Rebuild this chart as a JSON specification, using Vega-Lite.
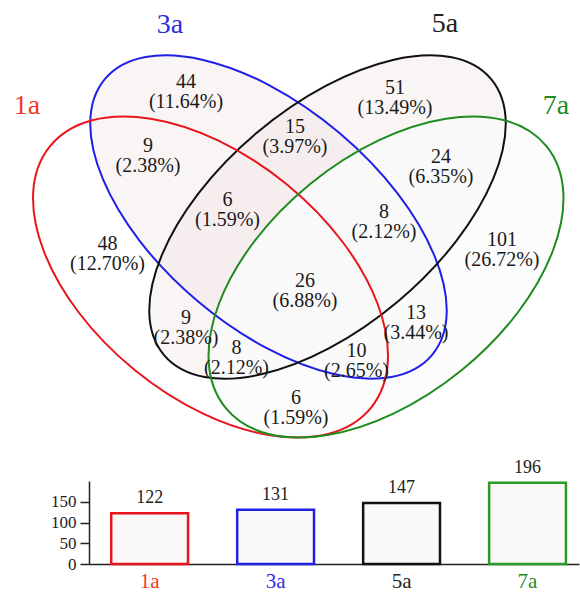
{
  "$schema": "https://vega.github.io/schema/vega-lite/v6.json",
  "padding": 0,
  "background": "white",
  "config": {
    "view": {"stroke": null},
    "font": "Liberation Serif"
  },
  "spacing": 8,
  "datasets": {
    "ellipses": [
      {"set": "1a", "cx": 210.5, "cy": 277},
      {"set": "3a", "cx": 268.5, "cy": 217},
      {"set": "5a", "cx": 327.5, "cy": 217},
      {"set": "7a", "cx": 386, "cy": 277}
    ],
    "setLabels": [
      {"set": "1a", "x": 27, "y": 106},
      {"set": "3a", "x": 170, "y": 25},
      {"set": "5a", "x": 445, "y": 24},
      {"set": "7a", "x": 556, "y": 106}
    ],
    "regions": [
      {"count": "44", "pct": "(11.64%)", "x": 186, "y": 92},
      {"count": "9", "pct": "(2.38%)", "x": 148, "y": 156},
      {"count": "51", "pct": "(13.49%)", "x": 395, "y": 97.5},
      {"count": "15", "pct": "(3.97%)", "x": 295, "y": 137},
      {"count": "24", "pct": "(6.35%)", "x": 441, "y": 167},
      {"count": "6", "pct": "(1.59%)", "x": 227.5, "y": 210},
      {"count": "8", "pct": "(2.12%)", "x": 384, "y": 222},
      {"count": "48", "pct": "(12.70%)", "x": 107.5, "y": 254},
      {"count": "26", "pct": "(6.88%)", "x": 305, "y": 291},
      {"count": "101", "pct": "(26.72%)", "x": 502, "y": 250},
      {"count": "9", "pct": "(2.38%)", "x": 186, "y": 328},
      {"count": "8", "pct": "(2.12%)", "x": 236.5, "y": 357.5},
      {"count": "13", "pct": "(3.44%)", "x": 416, "y": 323},
      {"count": "10", "pct": "(2.65%)", "x": 356.5, "y": 361},
      {"count": "6", "pct": "(1.59%)", "x": 296, "y": 407.5}
    ],
    "totals": [
      {"set": "1a", "total": 122},
      {"set": "3a", "total": 131},
      {"set": "5a", "total": 147},
      {"set": "7a", "total": 196}
    ]
  },
  "vconcat": [
    {
      "width": 491,
      "height": 450,
      "data": {"name": "ellipses"},
      "encoding": {
        "x": {"field": "cx", "type": "quantitative", "scale": {"domain": [89, 580], "nice": false, "zero": false}, "axis": null},
        "y": {"field": "cy", "type": "quantitative", "scale": {"domain": [0, 450], "nice": false, "zero": false, "reverse": true}, "axis": null}
      },
      "layer": [
        {
          "transform": [{"filter": "datum.set === '3a'"}],
          "mark": {"type": "point", "shape": "M -2.14 0 A 2.14 1.1 0 1 0 2.14 0 A 2.14 1.1 0 1 0 -2.14 0 Z", "angle": 40.2, "size": 40000, "filled": true, "fill": "#eedede", "fillOpacity": 0.3, "strokeWidth": 0, "opacity": 1}
        },
        {
          "transform": [{"filter": "datum.set === '5a'"}],
          "mark": {"type": "point", "shape": "M -2.14 0 A 2.14 1.1 0 1 0 2.14 0 A 2.14 1.1 0 1 0 -2.14 0 Z", "angle": -40.2, "size": 40000, "filled": true, "fill": "#eedede", "fillOpacity": 0.3, "strokeWidth": 0, "opacity": 1}
        },
        {
          "transform": [{"filter": "datum.set === '7a'"}],
          "mark": {"type": "point", "shape": "M -2.07 0 A 2.07 1.2 0 1 0 2.07 0 A 2.07 1.2 0 1 0 -2.07 0 Z", "angle": -39.2, "size": 40000, "filled": true, "fill": "#fbfbfb", "fillOpacity": 0.8, "strokeWidth": 0, "opacity": 1}
        },
        {
          "transform": [{"filter": "datum.set === '3a'"}],
          "mark": {"type": "point", "shape": "M -2.14 0 A 2.14 1.1 0 1 0 2.14 0 A 2.14 1.1 0 1 0 -2.14 0 Z", "angle": 40.2, "size": 40000, "filled": false, "stroke": "#1f1fe6", "strokeWidth": 2, "opacity": 1}
        },
        {
          "transform": [{"filter": "datum.set === '5a'"}],
          "mark": {"type": "point", "shape": "M -2.14 0 A 2.14 1.1 0 1 0 2.14 0 A 2.14 1.1 0 1 0 -2.14 0 Z", "angle": -40.2, "size": 40000, "filled": false, "stroke": "#111111", "strokeWidth": 2, "opacity": 1}
        },
        {
          "transform": [{"filter": "datum.set === '1a'"}],
          "mark": {"type": "point", "shape": "M -2.07 0 A 2.07 1.2 0 1 0 2.07 0 A 2.07 1.2 0 1 0 -2.07 0 Z", "angle": 39.2, "size": 40000, "filled": false, "stroke": "#e8161c", "strokeWidth": 2, "opacity": 1}
        },
        {
          "transform": [{"filter": "datum.set === '7a'"}],
          "mark": {"type": "point", "shape": "M -2.07 0 A 2.07 1.2 0 1 0 2.07 0 A 2.07 1.2 0 1 0 -2.07 0 Z", "angle": -39.2, "size": 40000, "filled": false, "stroke": "#1e8c1e", "strokeWidth": 2, "opacity": 1}
        },
        {
          "data": {"name": "setLabels"},
          "mark": {"type": "text", "fontSize": 28, "baseline": "middle", "align": "center"},
          "encoding": {
            "x": {"field": "x", "type": "quantitative"},
            "y": {"field": "y", "type": "quantitative"},
            "text": {"field": "set"},
            "color": {"field": "set", "type": "nominal", "scale": {"domain": ["1a", "3a", "5a", "7a"], "range": ["#ee3b26", "#2d2de0", "#222222", "#1e8c1e"]}, "legend": null}
          }
        },
        {
          "data": {"name": "regions"},
          "mark": {"type": "text", "fontSize": 20, "baseline": "middle", "align": "center", "dy": -10, "color": "#1a1a1a"},
          "encoding": {
            "x": {"field": "x", "type": "quantitative"},
            "y": {"field": "y", "type": "quantitative"},
            "text": {"field": "count"}
          }
        },
        {
          "data": {"name": "regions"},
          "mark": {"type": "text", "fontSize": 20, "baseline": "middle", "align": "center", "dy": 10, "color": "#1a1a1a"},
          "encoding": {
            "x": {"field": "x", "type": "quantitative"},
            "y": {"field": "y", "type": "quantitative"},
            "text": {"field": "pct"}
          }
        }
      ]
    },
    {
      "width": 490,
      "height": 83,
      "data": {"name": "totals"},
      "encoding": {
        "x": {
          "field": "set", "type": "nominal", "sort": ["1a", "3a", "5a", "7a"],
          "scale": {"paddingInner": 0.39, "paddingOuter": 0.14, "align": 0.63},
          "axis": {
            "title": null, "ticks": false, "labelAngle": 0, "labelFontSize": 21, "labelPadding": 6,
            "domainColor": "#222222", "domainWidth": 1.5,
            "labelColor": {
              "condition": [
                {"test": "datum.value === '1a'", "value": "#ee3b26"},
                {"test": "datum.value === '3a'", "value": "#2d2de0"},
                {"test": "datum.value === '7a'", "value": "#1e8c1e"}
              ],
              "value": "#222222"
            }
          }
        },
        "y": {
          "field": "total", "type": "quantitative",
          "scale": {"domain": [0, 200], "nice": false},
          "axis": {
            "title": null, "values": [0, 50, 100, 150], "grid": false, "labelFontSize": 17, "labelPadding": 4,
            "labelColor": "#222222", "domainColor": "#222222", "domainWidth": 1.5,
            "tickColor": "#222222", "tickWidth": 1.5, "tickSize": 9, "minExtent": 89, "maxExtent": 89
          }
        }
      },
      "layer": [
        {
          "mark": {"type": "bar", "fill": "#fbf8f8", "strokeWidth": 2.5},
          "encoding": {
            "stroke": {"field": "set", "type": "nominal", "scale": {"domain": ["1a", "3a", "5a", "7a"], "range": ["#e8161c", "#1f1fe6", "#111111", "#2a9a2a"]}, "legend": null}
          }
        },
        {
          "mark": {"type": "text", "fontSize": 18, "baseline": "bottom", "dy": -6, "color": "#222222"},
          "encoding": {"text": {"field": "total", "type": "quantitative"}}
        }
      ]
    }
  ]
}
